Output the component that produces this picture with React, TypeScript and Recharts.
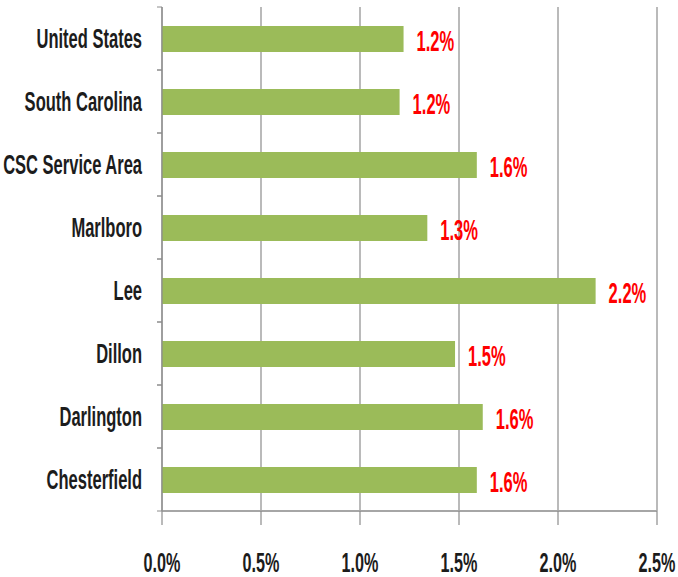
import { BarChart, Bar, XAxis, YAxis, CartesianGrid, LabelList } from "recharts";

// ---------------------------------------------------------------------------
// Data
// ---------------------------------------------------------------------------

const categories = [
  "United States",
  "South Carolina",
  "CSC Service Area",
  "Marlboro",
  "Lee",
  "Dillon",
  "Darlington",
  "Chesterfield",
];
const values = [1.22, 1.2, 1.59, 1.34, 2.19, 1.48, 1.62, 1.59];
const xTicks = [0, 0.5, 1.0, 1.5, 2.0, 2.5];

const chartData = categories.map((name, i) => ({ name, value: values[i] }));

// ---------------------------------------------------------------------------
// Styling
// ---------------------------------------------------------------------------

const W = 678;
const H = 577;
const MARGIN = { top: 7, right: 21, left: 0, bottom: 0 };
const Y_WIDTH = 162;
const X_HEIGHT = 66;
const BAND = (H - MARGIN.top - MARGIN.bottom - X_HEIGHT) / categories.length;

const FONT = "'Liberation Sans', Arial, sans-serif";
const SQUEEZE = 0.59;
const GRID = "#8c8c8c";
const TEXT = "#1c1c1c";

const fmt = (v: number) => `${v.toFixed(1)}%`;

function CategoryTick(props: any) {
  const { x, y, payload } = props;
  return (
    <g>
      <line x1={x - 5} x2={x} y1={y - BAND / 2} y2={y - BAND / 2} stroke={GRID} />
      <line x1={x - 5} x2={x} y1={y + BAND / 2} y2={y + BAND / 2} stroke={GRID} />
      <g transform={`translate(${x - 20},${y + 9}) scale(${SQUEEZE},1)`}>
        <text textAnchor="end" fontFamily={FONT} fontWeight="bold" fontSize={28} fill={TEXT}>
          {payload.value}
        </text>
      </g>
    </g>
  );
}

function ValueTick(props: any) {
  const { x, y, payload } = props;
  return (
    <g transform={`translate(${x},${y + 45}) scale(0.6,1)`}>
      <text textAnchor="middle" fontFamily={FONT} fontWeight="bold" fontSize={27} fill={TEXT}>
        {fmt(payload.value)}
      </text>
    </g>
  );
}

function BarValue(props: any) {
  const { x, y, width, height, value } = props;
  return (
    <g transform={`translate(${x + width + 13},${y + height / 2 + 12}) scale(0.57,1)`}>
      <text textAnchor="start" fontFamily={FONT} fontWeight="bold" fontSize={29} fill="#ff0000">
        {fmt(Number(value))}
      </text>
    </g>
  );
}

// ---------------------------------------------------------------------------
// Component
// ---------------------------------------------------------------------------

export default function App() {
  return (
    <div style={{ position: "absolute", left: 0, top: 0, width: W, height: H, background: "#fff" }}>
      <BarChart width={W} height={H} data={chartData} layout="vertical" margin={MARGIN}>
        <CartesianGrid horizontal={false} stroke={GRID} strokeWidth={1.2} />
        <XAxis
          type="number"
          domain={[0, 2.5]}
          ticks={xTicks}
          height={X_HEIGHT}
          tickSize={14}
          tickLine={{ stroke: GRID, strokeWidth: 1.2 }}
          axisLine={{ stroke: "#a6a6a6", strokeWidth: 2 }}
          tick={<ValueTick />}
          interval={0}
        />
        <YAxis
          type="category"
          dataKey="name"
          width={Y_WIDTH}
          tickSize={0}
          tickMargin={0}
          tickLine={false}
          axisLine={{ stroke: GRID, strokeWidth: 1.2 }}
          tick={<CategoryTick />}
          interval={0}
        />
        <Bar dataKey="value" fill="#9bbb59" barSize={26} isAnimationActive={false}>
          <LabelList dataKey="value" content={<BarValue />} />
        </Bar>
      </BarChart>
    </div>
  );
}
